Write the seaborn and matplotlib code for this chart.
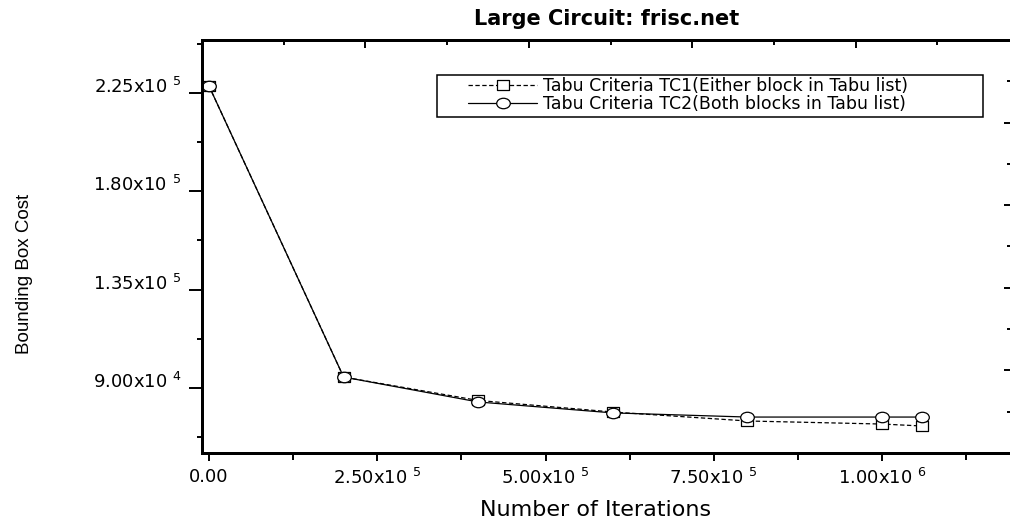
import numpy as np
import pandas as pd
import matplotlib
matplotlib.use("Agg")
import matplotlib.pyplot as plt
import seaborn as sns
from matplotlib.path import Path
from matplotlib.patches import Rectangle
from matplotlib.ticker import FixedLocator, MultipleLocator, NullFormatter

# ---------------- data ----------------
iterations = [0, 200000, 400000, 600000, 800000, 1000000, 1060000]
tc1_cost = [228200, 95000, 84300, 79000, 74900, 73500, 72600]
tc2_cost = [228200, 95000, 83600, 78600, 76700, 76700, 76700]
series_names = ["Tabu Criteria TC1(Either block in Tabu list)",
                "Tabu Criteria TC2(Both blocks in Tabu list)"]

x_tick_values = [0, 250000, 500000, 750000, 1000000]
x_tick_mantissa = ["0.00", "2.50", "5.00", "7.50", "1.00"]
x_tick_exponent = [None, 5, 5, 5, 6]
y_tick_values = [90000, 135000, 180000, 225000]
y_tick_mantissa = ["9.00", "1.35", "1.80", "2.25"]
y_tick_exponent = [4, 5, 5, 5]

title_text = "Large Circuit: frisc.net"
x_label = "Number of Iterations"
y_label = "Bounding Box Cost"

# ---------------- style ----------------
sns.set_style("ticks")
plt.rcParams["font.family"] = ["DejaVu Sans"]
plt.rcParams["mathtext.fontset"] = "dejavusans"
plt.rcParams["mathtext.default"] = "regular"
for k in ("text.color", "axes.labelcolor", "xtick.color", "ytick.color", "axes.edgecolor"):
    plt.rcParams[k] = "black"


def sci_label(m, e):
    return m if e is None else rf"{m}x10$^{{\ \,{e}}}$"


ell = Path.unit_circle()
ellipse_marker = Path(ell.vertices * np.array([1.3, 1.0]), ell.codes)
rect_marker = Path([(-0.65, -0.5), (0.65, -0.5), (0.65, 0.5), (-0.65, 0.5), (-0.65, -0.5)],
                   [Path.MOVETO, Path.LINETO, Path.LINETO, Path.LINETO, Path.CLOSEPOLY])

fig = plt.figure(figsize=(10.10, 5.21), dpi=100)
ax = fig.add_axes([202 / 1010, (521 - 453) / 521, 810 / 1010, 413 / 521])

df1 = pd.DataFrame({"iter": iterations, "cost": tc1_cost})
df2 = pd.DataFrame({"iter": iterations, "cost": tc2_cost})

sns.lineplot(data=df1, x="iter", y="cost", ax=ax, color="black", linewidth=0.9,
             linestyle=(0, (3.5, 2.0)), marker=rect_marker, markersize=8.6,
             markerfacecolor="white", markeredgecolor="black", markeredgewidth=0.9,
             label=series_names[0], sort=False, zorder=3)
sns.lineplot(data=df2, x="iter", y="cost", ax=ax, color="black", linewidth=0.9,
             linestyle="-", marker=ellipse_marker, markersize=9.8,
             markerfacecolor="white", markeredgecolor="black", markeredgewidth=0.9,
             label=series_names[1], sort=False, zorder=4)

ax.set_xlim(-10400, 1193000)
ax.set_ylim(60250, 249250)

ax.xaxis.set_major_locator(FixedLocator(x_tick_values))
ax.xaxis.set_minor_locator(MultipleLocator(125000))
ax.set_xticklabels([sci_label(m, e) for m, e in zip(x_tick_mantissa, x_tick_exponent)])
ax.yaxis.set_major_locator(FixedLocator(y_tick_values))
ax.yaxis.set_minor_locator(MultipleLocator(22500))
ax.set_yticklabels([sci_label(m, e) for m, e in zip(y_tick_mantissa, y_tick_exponent)])
for lbl in ax.get_yticklabels():
    lbl.set_verticalalignment("baseline")

ax.tick_params(axis="x", which="major", direction="out", length=6, width=1.4,
               labelsize=13, pad=5, top=False)
ax.tick_params(axis="x", which="minor", direction="out", length=5, width=1.4, top=False)
ax.tick_params(axis="y", which="major", direction="out", length=9.5, width=1.4,
               labelsize=13, pad=5, right=False)
ax.tick_params(axis="y", which="minor", direction="out", length=3.8, width=1.4, right=False)

for s in ax.spines.values():
    s.set_linewidth(2.0)
    s.set_color("black")

# decorative top / right tick rows (unlabelled, independent scale)
ax_top = ax.twiny()
ax_top.set_xlim(0, 810 / 163.4)
ax_top.xaxis.set_major_locator(FixedLocator([1, 2, 3, 4]))
ax_top.xaxis.set_minor_locator(FixedLocator([0.5, 1.5, 2.5, 3.5, 4.5]))
ax_top.xaxis.set_major_formatter(NullFormatter())
ax_top.tick_params(axis="x", which="major", direction="in", length=6, width=1.4)
ax_top.tick_params(axis="x", which="minor", direction="in", length=3.5, width=1.4)
ax_right = ax.twinx()
ax_right.set_ylim(0, 5)
ax_right.yaxis.set_major_locator(FixedLocator([1, 2, 3, 4]))
ax_right.yaxis.set_minor_locator(FixedLocator([0.5, 1.5, 2.5, 3.5, 4.5]))
ax_right.yaxis.set_major_formatter(NullFormatter())
ax_right.tick_params(axis="y", which="major", direction="in", length=6, width=1.4)
ax_right.tick_params(axis="y", which="minor", direction="in", length=3.5, width=1.4)
for a in (ax_top, ax_right):
    for s in a.spines.values():
        s.set_linewidth(2.0)

# labels
ax.set_title(title_text, fontsize=15, fontweight="bold", pad=11)
ax.set_xlabel(x_label, fontsize=16)
ax.xaxis.set_label_coords(0.486, -0.114)
ax.set_ylabel(y_label, fontsize=13.5, family=["Liberation Sans", "DejaVu Sans"])
ax.yaxis.set_label_coords(-0.209, 0.433)

# legend
ax.add_patch(Rectangle((0.2901, 0.8136), 0.674, 0.1017, transform=ax.transAxes,
                       facecolor="white", edgecolor="black", linewidth=1.1, zorder=5))
handles, labels = ax.get_legend_handles_labels()
leg = ax.legend(handles, labels, loc="upper left", bbox_to_anchor=(0.3284, 0.911),
                frameon=False, fontsize=12.5, handlelength=4.0, handletextpad=0.3,
                labelspacing=0.0, borderpad=0.0, borderaxespad=0.0)
leg.set_zorder(6)

fig.savefig("out.png", dpi=100)
